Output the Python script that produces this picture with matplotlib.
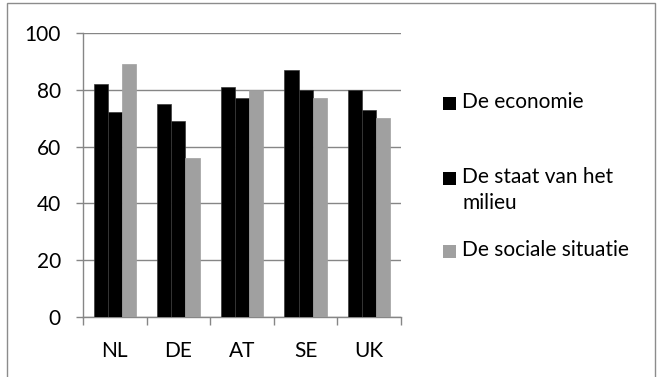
import numpy as np
import matplotlib
matplotlib.use("Agg")
import matplotlib.pyplot as plt
from matplotlib.patches import Rectangle

countries = ["NL", "DE", "AT", "SE", "UK"]
economie = [82, 75, 81, 87, 80]
milieu = [72, 69, 77, 80, 73]
sociaal = [89, 56, 80, 77, 70]

series = [
    ("De economie", economie, "#000000"),
    ("De staat van het\nmilieu", milieu, "#000000"),
    ("De sociale situatie", sociaal, "#a0a0a0"),
]

plt.rcParams["font.family"] = ["Lato", "DejaVu Sans"]
grey = "#868686"
fs = 15

fig = plt.figure(figsize=(6.57, 3.77), dpi=100)
ax = fig.add_axes([0.1263, 0.159, 0.484, 0.754])

x = np.arange(len(countries))
w = 1 / 4.5
for i, (name, vals, col) in enumerate(series):
    ax.bar(x + (i - 1) * w, vals, width=w, color=col,
           edgecolor="#3a3a3a" if col == "#000000" else col,
           linewidth=0.5, zorder=3)

ax.set_xlim(-0.5, len(countries) - 0.5)
ax.set_ylim(0, 100)
ax.set_yticks(range(0, 101, 20))
ax.yaxis.grid(True, color=grey, linewidth=1.0, zorder=0)

ax.set_xticks(np.arange(-0.5, len(countries)), labels=[])
ax.set_xticks(x, labels=countries, minor=True)
ax.tick_params(axis="x", which="major", length=5.5, color=grey, width=1.0)
ax.tick_params(axis="x", which="minor", length=0, pad=17, labelsize=fs)
ax.tick_params(axis="y", length=5, color=grey, width=1.0, pad=11, labelsize=fs)

for s in ["top", "right"]:
    ax.spines[s].set_visible(False)
for s in ["left", "bottom"]:
    ax.spines[s].set_color(grey)
    ax.spines[s].set_linewidth(1.0)

# legend drawn by hand so the square sits on the first text line
W, H = 657, 377
legend_rows = [(103, series[0]), (178, series[1]), (251, series[2])]
for yc, (name, vals, col) in legend_rows:
    fig.patches.append(Rectangle((443 / W, 1 - (yc + 6.5) / H), 13 / W, 13 / H,
                                 transform=fig.transFigure, facecolor=col,
                                 edgecolor="none"))
    fig.text(462 / W, 1 - (yc - 11) / H, name, fontsize=fs, va="top",
             ha="left", linespacing=1.35)

fig.patches.append(Rectangle((7 / W, -0.01), 648 / W, 1 - 3 / H + 0.01,
                             transform=fig.transFigure, facecolor="none",
                             edgecolor="#8c8c8c", linewidth=1.0))

fig.savefig("out.png", dpi=100)
